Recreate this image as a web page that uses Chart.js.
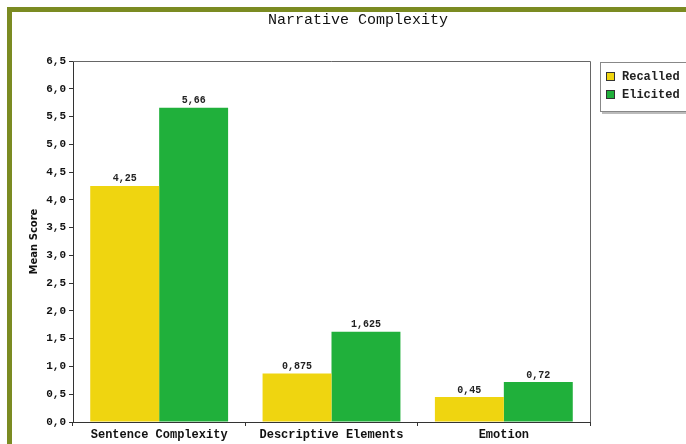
<!DOCTYPE html>
<html>
<head>
<meta charset="utf-8">
<script src="https://cdn.jsdelivr.net/npm/chart.js@4.4.1/dist/chart.umd.min.js"></script>
<style>
  html, body { margin: 0; padding: 0; background: #fff; overflow: hidden; }
  #frame {
    position: absolute; left: 7px; top: 7px; width: 700px; height: 440px;
    border-left: 5px solid #7b8b22; border-top: 5px solid #7b8b22; background: #fff;
  }
  #mycanvas { position: absolute; left: 0; top: 0; }
</style>
</head>
<body>
<div id="frame"><canvas id="mycanvas" width="692" height="432"></canvas></div>
<script>
var chartTitle = "Narrative Complexity";
var categories = ["Sentence Complexity", "Descriptive Elements", "Emotion"];
var recalled = [4.25, 0.875, 0.45];
var elicited = [5.66, 1.625, 0.72];
var seriesNames = ["Recalled", "Elicited"];
var seriesColors = ["#efd510", "#20b03b"];

function comma(v) {
	return String(v).replace(".", ",");
}

// title over the whole picture, frame round the plot, value labels, legend box
var extras = {
	id: "extras",
	afterDraw: function(chart) {
		var ctx = chart.ctx;
		var a = chart.chartArea;
		ctx.save();

		ctx.font = "15px 'Liberation Mono', monospace";
		ctx.fillStyle = "#111";
		ctx.textAlign = "center";
		ctx.textBaseline = "middle";
		ctx.fillText(chartTitle, chart.width / 2, 8);

		ctx.strokeStyle = "#666";
		ctx.lineWidth = 1;
		ctx.beginPath();
		ctx.moveTo(a.left, a.top + 0.5);
		ctx.lineTo(a.right + 0.5, a.top + 0.5);
		ctx.lineTo(a.right + 0.5, a.bottom);
		ctx.stroke();

		ctx.font = "bold 10px 'Liberation Mono', monospace";
		ctx.fillStyle = "#222";
		ctx.textBaseline = "bottom";
		chart.data.datasets.forEach(function(ds, i) {
			chart.getDatasetMeta(i).data.forEach(function(bar, j) {
				ctx.fillText(comma(ds.data[j]), bar.x, bar.y - 2);
			});
		});

		// legend
		var lx = a.right + 10, ly = a.top + 1;
		ctx.fillStyle = "#bbb";
		ctx.fillRect(lx + 2, ly + 2, 120, 50);
		ctx.fillStyle = "#fff";
		ctx.fillRect(lx, ly, 120, 50);
		ctx.strokeStyle = "#888";
		ctx.strokeRect(lx + 0.5, ly + 0.5, 120, 49);
		ctx.font = "bold 12px 'Liberation Mono', monospace";
		ctx.textAlign = "left";
		ctx.textBaseline = "middle";
		chart.data.datasets.forEach(function(ds, i) {
			var y = ly + 15 + i * 18;
			ctx.fillStyle = ds.backgroundColor;
			ctx.fillRect(lx + 6, y - 5, 9, 9);
			ctx.strokeStyle = "#333";
			ctx.strokeRect(lx + 6.5, y - 4.5, 8, 8);
			ctx.fillStyle = "#222";
			ctx.fillText(ds.label, lx + 22, y);
		});
		ctx.restore();
	}
};

var chartdata = {
	labels: categories,
	datasets: [
		{ label: seriesNames[0], backgroundColor: seriesColors[0], data: recalled },
		{ label: seriesNames[1], backgroundColor: seriesColors[1], data: elicited }
	]
};

var ctx = document.getElementById("mycanvas");
var barGraph = new Chart(ctx, {
	type: "bar",
	data: chartdata,
	plugins: [extras],
	options: {
		responsive: false,
		animation: false,
		devicePixelRatio: 1,
		categoryPercentage: 0.8,
		barPercentage: 1.0,
		borderWidth: 0,
		layout: { padding: { left: 16, right: 114, top: 49, bottom: 0 } },
		plugins: {
			legend: { display: false },
			tooltip: { enabled: false },
			title: { display: false }
		},
		scales: {
			x: {
				grid: { offset: true, drawOnChartArea: false, tickLength: 4, color: "#333" },
				border: { color: "#333" },
				ticks: {
					color: "#111", padding: 2,
					font: { family: "'Liberation Mono', monospace", size: 12, weight: "bold" }
				},
				afterFit: function(scale) { scale.height = 22; }
			},
			y: {
				min: 0, max: 6.5,
				grid: { drawOnChartArea: false, tickLength: 4, color: "#333" },
				border: { color: "#333" },
				ticks: {
					stepSize: 0.5, color: "#111", padding: 3,
					font: { family: "'Liberation Mono', monospace", size: 11, weight: "bold" },
					callback: function(v) { return v.toFixed(1).replace(".", ","); }
				},
				title: {
					display: true, text: "Mean Score", color: "#111",
					font: { family: "'DejaVu Sans', sans-serif", size: 10, weight: "bold" },
					padding: 0
				},
				afterFit: function(scale) { scale.width = 45; }
			}
		}
	}
});
</script>
</body>
</html>
